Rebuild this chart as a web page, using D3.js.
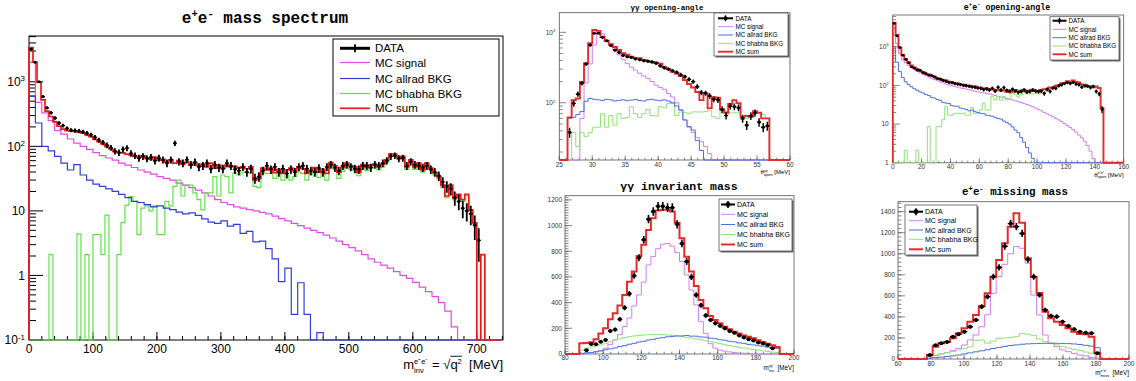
<!DOCTYPE html>
<html>
<head>
<meta charset="utf-8">
<script src="https://cdn.jsdelivr.net/npm/d3@7/dist/d3.min.js"></script>
<style>
  html, body { margin: 0; padding: 0; background: #fff; }
  svg { display: block; }
</style>
</head>
<body>
<div id="chart"></div>
<script>
// ---------------- e+e- mass spectrum (log) ----------------
// data, MC sum and bhabha in 6.25 MeV bins, signal and allrad in 10 MeV bins
var massBin = 6.25, massBinMC = 10;
var massData = [
  3200, 2000, 1000, 590, 395, 330, 275, 230, 210, 190,
  178, 175, 172, 168, 160, 150, 138, 125, 115, 104,
  95, 84, 80, 90, 94, 78, 72, 66, 70, 65,
  68, 60, 66, 62, 55, 62, 112, 58, 55, 62,
  52, 57, 48, 50, 55, 45, 52, 47, 45, 55,
  50, 44, 42, 48, 40, 45, 32, 34, 42, 50,
  44, 48, 40, 45, 38, 44, 40, 48, 50, 45,
  42, 40, 46, 40, 48, 52, 47, 42, 50, 52,
  48, 45, 44, 50, 50, 47, 52, 50, 55, 60,
  70, 72, 65, 66, 50, 58, 52, 50, 47, 50,
  44, 40, 35, 28, 24, 22, 16, 14, 11, 10,
  9, 6, 3.5, 0, 0, 0, 0, 0];
var massSum = [
  3400, 2020, 1000, 525, 350, 290, 240, 205, 185, 175,
  172, 170, 166, 160, 150, 141, 128, 118, 109, 99,
  91, 83, 80, 79, 76, 74, 70, 68, 71, 65,
  63, 68, 61, 63, 57, 62, 55, 60, 53, 57,
  51, 55, 50, 53, 48, 55, 46, 51, 46, 51,
  48, 49, 46, 48, 45, 48, 30, 32, 46, 43,
  46, 39, 44, 38, 43, 46, 42, 48, 45, 38,
  42, 47, 40, 44, 38, 56, 50, 40, 47, 55,
  50, 48, 40, 52, 47, 51, 53, 48, 53, 62,
  76, 76, 68, 70, 48, 62, 48, 55, 43, 55,
  46, 39, 34, 25, 17, 25, 16, 18, 15, 18,
  10.4, 6.5, 0, 2.1, 0, 0, 0, 0];
var massBhabha = [
  0, 0, 0, 0, 0, 2.1, 0, 0, 0, 0,
  0, 0, 4.4, 0, 2.1, 0, 4.3, 4.3, 2.1, 8.6,
  0, 0, 2.1, 6.6, 12.3, 16.6, 14, 4.3, 11, 12,
  10, 12, 4.3, 4.3, 14, 12, 24, 30, 17, 25,
  25, 19, 15, 10.4, 19, 19, 34, 17, 36, 34,
  19, 39, 36, 39, 40, 38, 24, 23, 40, 38,
  38, 32, 40, 30, 36, 30, 34, 40, 38, 30,
  36, 40, 33, 38, 30, 48, 44, 32, 41, 49,
  44, 42, 35, 46, 42, 46, 48, 43, 48, 57,
  70, 70, 63, 65, 44, 57, 44, 51, 40, 52,
  43, 36, 32, 23, 16, 23, 15, 17, 14, 17,
  10, 6.3, 0, 2.1, 0, 0, 0, 0];
var massSignal = [
  2000, 480, 330, 250, 175, 155, 130, 112, 100, 90,
  80, 72, 66, 61, 55, 51, 47, 43, 40, 37,
  34, 32, 30, 27, 25, 23, 21, 19, 17, 15,
  13.5, 12.5, 11.5, 11, 10.5, 10, 9.5, 9, 8.3, 7.6,
  7, 6.4, 5.9, 5.4, 5, 4.6, 4.2, 3.8, 3.4, 3.0,
  2.7, 2.4, 2.1, 1.8, 1.6, 1.45, 1.3, 1.15, 1.0, 0.9,
  0.78, 0.66, 0.56, 0.47, 0.38, 0.28, 0.16, 0, 0, 0,
  0, 0, 0, 0];
var massAllrad = [
  600, 230, 100, 85, 70, 55, 43, 52, 36, 30,
  26, 24, 22, 20, 18, 16, 14, 13.5, 12.5, 11.5,
  12, 11, 10.5, 9.6, 9, 9.3, 8.5, 7.5, 6.7, 6.4,
  7, 5.8, 6.2, 4.5, 4.8, 3.3, 3.4, 2.6, 1.8, 0.8,
  1.3, 0.25, 0.77, 0.25, 0, 0.13, 0, 0, 0, 0,
  0, 0, 0, 0, 0, 0, 0, 0, 0, 0,
  0, 0, 0, 0, 0, 0, 0, 0, 0, 0,
  0, 0, 0, 0];

// ---------------- gamma gamma opening angle (log), 0.625 bins from 25 ----------------
var ggAngLo = 25, ggAngBin = 0.625;
var ggAngData = [
  0, 0, 38, 98, 133, 190, 355, 660, 970, 970,
  850, 760, 650, 560, 520, 470, 450, 440, 420, 410,
  395, 390, 380, 365, 335, 315, 300, 285, 270, 250,
  235, 215, 200, 170, 140, 137, 125, 112, 110, 80,
  66, 90, 88, 85, 60, 48, 65, 72, 53, 45,
  47, 0, 0, 0, 0, 0];
var ggAngSum = [
  0, 0, 62, 109, 115, 197, 365, 700, 1080, 1050,
  860, 760, 680, 620, 560, 505, 480, 450, 430, 430,
  405, 390, 380, 370, 360, 320, 300, 275, 260, 240,
  210, 185, 165, 142, 109, 135, 84, 120, 118, 81,
  72, 96, 109, 99, 63, 65, 63, 76, 72, 60,
  60, 0, 0, 0, 0, 0];
var ggAngSignal = [
  0, 0, 0, 0, 0, 60, 190, 355, 660, 1000,
  950, 740, 650, 560, 480, 415, 360, 320, 290, 263,
  240, 222, 200, 178, 165, 155, 135, 121, 100, 79,
  57, 45, 38, 32, 28, 24, 19, 0, 0, 0,
  0, 0, 0, 0, 0, 0, 0, 0, 0, 0,
  0, 0, 0, 0, 0, 0];
var ggAngAllrad = [
  0, 0, 60, 62, 68, 75, 105, 115, 112, 110,
  108, 112, 110, 106, 108, 110, 107, 109, 111, 108,
  106, 110, 112, 109, 107, 110, 106, 100, 90, 79,
  57, 46, 41, 29, 21, 0, 0, 0, 0, 0,
  0, 0, 0, 0, 0, 0, 0, 0, 0, 0,
  0, 0, 0, 0, 0, 0];
var ggAngBhabha = [
  0, 0, 0, 38, 24, 38, 33, 38, 45, 45,
  70, 45, 66, 48, 70, 60, 62, 88, 70, 62,
  70, 80, 66, 65, 88, 85, 98, 98, 66, 74,
  72, 70, 74, 74, 74, 75, 79, 63, 60, 79,
  75, 72, 72, 72, 57, 60, 64, 70, 72, 68,
  60, 0, 0, 0, 0, 0];

// ---------------- gamma gamma invariant mass (linear), 2.5 MeV bins from 80 ----------------
var ggMassLo = 80, ggMassBin = 2.5;
var ggMassData = [
  0, 0, 0, 0, 30, 78, 75, 95, 110, 180,
  190, 270, 360, 470, 610, 750, 890, 1050, 1110, 1150,
  1150, 1140, 1140, 1010, 860, 720, 600, 460, 380, 300,
  265, 240, 220, 200, 180, 165, 145, 128, 115, 105,
  90, 82, 70, 45, 0, 0, 0, 0];
var ggMassSum = [
  0, 0, 0, 83, 85, 92, 114, 160, 200, 270,
  317, 377, 460, 563, 642, 764, 850, 966, 1057, 1117,
  1123, 1123, 1110, 1023, 902, 758, 642, 530, 421, 356,
  296, 265, 239, 213, 193, 174, 160, 145, 135, 122,
  108, 94, 80, 68, 55, 0, 0, 0];
var ggMassSignal = [
  0, 0, 0, 0, 3, 8, 16, 26, 45, 75,
  110, 150, 213, 280, 374, 460, 560, 694, 760, 820,
  855, 860, 840, 790, 720, 616, 499, 382, 252, 161,
  80, 45, 30, 22, 16, 12, 8, 6, 4, 2,
  0, 0, 0, 0, 0, 0, 0, 0];
var ggMassAllrad = [
  0, 0, 0, 5, 9, 11, 18, 24, 33, 40,
  47, 58, 65, 76, 83, 93, 99, 109, 114, 123,
  127, 134, 137, 141, 141, 144, 139, 139, 133, 131,
  123, 119, 111, 107, 99, 95, 87, 83, 75, 71,
  64, 61, 53, 49, 44, 0, 0, 0];
var ggMassBhabha = [
  0, 0, 0, 30, 45, 55, 62, 70, 80, 95,
  108, 118, 128, 135, 140, 145, 148, 150, 152, 150,
  152, 148, 145, 140, 135, 130, 124, 118, 110, 104,
  96, 88, 80, 72, 65, 58, 52, 46, 40, 35,
  30, 25, 20, 15, 12, 0, 0, 0];

// ---------------- e+e- opening angle (log), 2 unit bins from 0 ----------------
var eeAngLo = 0, eeAngBin = 2;
var eeAngData = [
  4000, 1900, 950, 600, 470, 380, 300, 280, 250, 245,
  215, 200, 185, 180, 165, 150, 145, 135, 128, 120,
  118, 112, 108, 105, 100, 98, 95, 92, 90, 86,
  84, 78, 82, 76, 84, 72, 90, 76, 88, 74,
  70, 80, 72, 66, 70, 76, 68, 70, 76, 72,
  70, 72, 62, 80, 70, 86, 84, 98, 104, 112,
  118, 112, 120, 108, 104, 90, 98, 96, 88, 94,
  70, 60, 24, 0, 0, 0, 0, 0, 0, 0];
var eeAngSum = [
  4200, 2000, 950, 610, 480, 400, 330, 290, 262, 236,
  222, 200, 192, 175, 168, 152, 147, 136, 134, 124,
  122, 114, 113, 106, 105, 98, 99, 92, 94, 86,
  87, 82, 84, 78, 80, 74, 77, 73, 75, 68,
  74, 68, 76, 69, 73, 77, 68, 74, 78, 71,
  68, 76, 80, 78, 88, 86, 98, 100, 114, 116,
  128, 124, 134, 122, 120, 106, 104, 93, 96, 90,
  94, 86, 26, 0, 0, 0, 0, 0, 0, 0];
var eeAngSignal = [
  3000, 1200, 650, 450, 380, 330, 290, 255, 230, 210,
  192, 178, 165, 152, 142, 132, 124, 116, 109, 103,
  98, 94, 90, 86, 83, 80, 77, 74, 71, 68,
  66, 64, 62, 60, 57, 55, 52, 50, 48, 46,
  44, 42, 40, 38, 36, 34, 32, 30, 28, 26,
  24, 22, 20, 18.5, 17, 15.5, 14, 12.8, 11.6, 10.4,
  9.2, 8.2, 7.2, 6.2, 5.2, 4.4, 3.6, 2.8, 2.0, 1.3,
  0, 0, 0, 0, 0, 0, 0, 0, 0, 0];
var eeAngAllrad = [
  1000, 400, 230, 160, 125, 105, 92, 82, 75, 68,
  64, 58, 55, 49, 47, 43, 41, 36, 35, 34,
  30, 29, 29, 26, 25, 24, 22, 23, 21, 20,
  19, 18.5, 17, 16.5, 16, 15, 14, 13.5, 12, 11,
  10, 8.5, 7, 6, 4.5, 3.4, 2.5, 1.8, 1.3, 0,
  0, 0, 0, 0, 0, 0, 0, 0, 0, 0,
  0, 0, 0, 0, 0, 0, 0, 0, 0, 0,
  0, 0, 0, 0, 0, 0, 0, 0, 0, 0];
var eeAngBhabha = [
  0, 0, 0, 0, 2.1, 0, 0, 0, 2.1, 0,
  0, 0, 8.6, 0, 0, 8.6, 8.6, 13, 28, 17,
  17, 19, 19, 19, 19, 17, 17, 27, 19, 19,
  23, 35, 23, 23, 51, 42, 51, 42, 51, 42,
  45, 62, 58, 50, 58, 68, 60, 68, 60, 62,
  60, 62, 66, 70, 75, 80, 88, 95, 102, 110,
  118, 122, 124, 120, 112, 105, 96, 92, 90, 89,
  90, 86, 25, 0, 0, 0, 0, 0, 0, 0];

// ---------------- e+e- missing mass (linear), 3.5 MeV bins from 60 ----------------
var eeMissLo = 60, eeMissBin = 3.5;
var eeMissData = [
  0, 0, 0, 0, 0, 38, 131, 150, 162, 212,
  235, 260, 307, 370, 497, 592, 782, 870, 1072, 1287,
  1258, 1193, 945, 782, 608, 466, 409, 403, 355, 314,
  282, 260, 250, 245, 55, 0, 0, 0, 0, 0];
var eeMissSum = [
  0, 0, 0, 0, 0, 38, 117, 149, 161, 197,
  244, 292, 355, 418, 504, 624, 782, 941, 1100, 1258,
  1385, 1296, 957, 782, 627, 450, 387, 355, 323, 292,
  260, 238, 235, 212, 60, 0, 0, 0, 0, 0];
var eeMissSignal = [
  0, 0, 0, 0, 0, 22, 32, 48, 60, 79,
  101, 133, 181, 228, 307, 420, 624, 783, 900, 1000,
  1068, 1052, 910, 608, 418, 228, 149, 117, 86, 70,
  54, 38, 29, 16, 8, 0, 0, 0, 0, 0];
var eeMissAllrad = [
  0, 0, 0, 0, 0, 8, 13, 18, 24, 30,
  38, 48, 58, 68, 78, 88, 100, 110, 120, 128,
  134, 140, 144, 146, 148, 149, 150, 149, 148, 146,
  143, 138, 130, 122, 108, 0, 0, 0, 0, 0];
var eeMissBhabha = [
  0, 0, 0, 0, 0, 29, 38, 48, 60, 72,
  86, 100, 115, 175, 181, 150, 170, 195, 200, 205,
  215, 240, 235, 225, 190, 165, 150, 135, 120, 105,
  92, 80, 66, 54, 40, 0, 0, 0, 0, 0];

// ---------------- ticks and legend ----------------
var legendLabels = ["DATA", "MC signal", "MC allrad BKG", "MC bhabha BKG", "MC sum"];
var mainXTicks = [0, 100, 200, 300, 400, 500, 600, 700];
var mainYTicks = [0.1, 1, 10, 100, 1000];
var mainYLabels = [["10", "-1"], ["1", ""], ["10", ""], ["10", "2"], ["10", "3"]];
var ggAngXTicks = [25, 30, 35, 40, 45, 50, 55, 60];
var ggAngYTicks = [100, 1000];
var ggAngYLabels = [["10", "2"], ["10", "3"]];
var ggMassXTicks = [80, 100, 120, 140, 160, 180, 200];
var ggMassYTicks = [0, 200, 400, 600, 800, 1000, 1200];
var eeAngXTicks = [0, 20, 40, 60, 80, 100, 120, 140, 160];
var eeAngYTicks = [1, 10, 100, 1000];
var eeAngYLabels = [["1", ""], ["10", ""], ["10", "2"], ["10", "3"]];
var eeMissXTicks = [60, 80, 100, 120, 140, 160, 180, 200];
var eeMissYTicks = [0, 200, 400, 600, 800, 1000, 1200, 1400];

var SANS = "'Liberation Sans', Arial, Helvetica, sans-serif";
var MONO = "'Liberation Mono', 'Courier New', monospace";

var svg = d3.select("#chart").append("svg")
  .attr("width", 1136)
  .attr("height", 381)
  .style("background", "#fff");

// text made of pieces, with sup / sub stacked at the same x
function rich(parent, x, y, segs, fs, family, anchor, weight, fill, supScale) {
  var ss = supScale || 0.66;
  var g = parent.append("g")
    .attr("font-family", family)
    .attr("font-size", fs)
    .attr("font-weight", weight || "normal")
    .attr("fill", fill || "#000");
  var cx = 0;
  segs.forEach(function (s) {
    var w = 0;
    if (s.t !== undefined) {
      var e0 = g.append("text").attr("x", cx).attr("y", 0).text(s.t.replace(/ /g, "\u00a0"));
      w = e0.node().getComputedTextLength();
    }
    if (s.sup !== undefined && s.sup !== "") {
      var e1 = g.append("text").attr("x", cx).attr("y", -fs * 0.4)
        .attr("font-size", fs * ss).text(s.sup);
      w = Math.max(w, e1.node().getComputedTextLength());
    }
    if (s.sub !== undefined) {
      var e2 = g.append("text").attr("x", cx).attr("y", fs * 0.28)
        .attr("font-size", fs * ss).text(s.sub);
      w = Math.max(w, e2.node().getComputedTextLength());
    }
    if (s.over) {
      g.append("line").attr("x1", cx).attr("x2", cx + w)
        .attr("y1", -fs * 0.98).attr("y2", -fs * 0.98)
        .attr("stroke", fill || "#000").attr("stroke-width", 0.9);
    }
    cx += w;
  });
  var dx = anchor === "end" ? -cx : anchor === "middle" ? -cx / 2 : 0;
  g.attr("transform", "translate(" + (x + dx) + "," + y + ")");
  return g;
}

function histPath(x, y, vals, lo, bw, floor) {
  var p = d3.path();
  var yb = y(floor);
  p.moveTo(x(lo), yb);
  vals.forEach(function (v, i) {
    var yy = y(Math.max(v, floor));
    p.lineTo(x(lo + i * bw), yy);
    p.lineTo(x(lo + (i + 1) * bw), yy);
  });
  p.lineTo(x(lo + vals.length * bw), yb);
  return p.toString();
}

function drawPanel(o) {
  var g = svg.append("g");
  var x = d3.scaleLinear().domain(o.xDom).range([o.left, o.right]);
  var y = (o.log ? d3.scaleLog() : d3.scaleLinear()).domain(o.yDom).range([o.bottom, o.top]);
  var floor = o.yDom[0];

  // frame
  g.append("rect")
    .attr("x", o.left).attr("y", o.top)
    .attr("width", o.right - o.left).attr("height", o.bottom - o.top)
    .attr("fill", "none").attr("stroke", o.frame).attr("stroke-width", o.frameW);

  // ticks, pointing inside
  var tg = g.append("g").attr("stroke", o.frame).attr("stroke-width", o.tickW);
  var xMinor = d3.range(o.xDom[0], o.xDom[1] + 1e-6, o.xMinor);
  tg.selectAll(".xm").data(xMinor).join("line")
    .attr("x1", d => x(d)).attr("x2", d => x(d))
    .attr("y1", o.bottom).attr("y2", o.bottom - o.xTick / 2);
  tg.selectAll(".xM").data(o.xTicks).join("line")
    .attr("x1", d => x(d)).attr("x2", d => x(d))
    .attr("y1", o.bottom).attr("y2", o.bottom - o.xTick);
  var yMinor = [];
  if (o.log) {
    var d0 = Math.floor(Math.log10(o.yDom[0])), d1 = Math.ceil(Math.log10(o.yDom[1]));
    for (var d = d0; d <= d1; d++) {
      for (var k = 2; k <= 9; k++) {
        var v = k * Math.pow(10, d);
        if (v >= o.yDom[0] && v <= o.yDom[1]) yMinor.push(v);
      }
    }
  } else {
    yMinor = d3.range(o.yDom[0], o.yDom[1], o.yMinor);
  }
  tg.selectAll(".ym").data(yMinor).join("line")
    .attr("x1", o.left).attr("x2", o.left + o.yTick / 2)
    .attr("y1", d => y(d)).attr("y2", d => y(d));
  tg.selectAll(".yM").data(o.yTicks).join("line")
    .attr("x1", o.left).attr("x2", o.left + o.yTick)
    .attr("y1", d => y(d)).attr("y2", d => y(d));

  // tick labels
  o.xTicks.forEach(function (v) {
    g.append("text")
      .attr("x", x(v)).attr("y", o.xLabY)
      .attr("text-anchor", "middle")
      .attr("font-family", SANS).attr("font-size", o.labFs)
      .attr("fill", o.labColor)
      .text(v);
  });
  o.yTicks.forEach(function (v, i) {
    var lab = o.yLabels ? o.yLabels[i] : [String(v), ""];
    rich(g, o.left - o.yLabGap, y(v) + o.labFs * 0.36,
      [{ t: lab[0] }, { sup: lab[1] }], o.labFs, SANS, "end", "normal", o.labColor);
  });

  // histograms
  var cid = "clip-" + o.id;
  svg.append("clipPath").attr("id", cid).append("rect")
    .attr("x", o.left - 1).attr("y", o.top)
    .attr("width", o.right - o.left + 2).attr("height", o.bottom - o.top + 1.5);
  var hg = g.append("g").attr("clip-path", "url(#" + cid + ")");
  o.hists.forEach(function (h) {
    hg.append("path")
      .attr("d", histPath(x, y, h.vals, h.lo, h.bw, floor))
      .attr("fill", "none")
      .attr("stroke", h.color)
      .attr("stroke-width", h.lw);
  });

  // data points with statistical error bars
  var pts = [];
  o.data.vals.forEach(function (v, i) {
    if (v > 0) pts.push({ c: o.data.lo + (i + 0.5) * o.data.bw, v: v, e: Math.sqrt(v) });
  });
  var half = (x(o.data.lo + o.data.bw) - x(o.data.lo)) / 2;
  var dg = hg.append("g").attr("stroke", "#000").attr("fill", "#000");
  dg.selectAll(".ev").data(pts).join("line")
    .attr("x1", d => x(d.c)).attr("x2", d => x(d.c))
    .attr("y1", d => y(Math.min(d.v + d.e, o.yDom[1])))
    .attr("y2", d => y(Math.max(d.v - d.e, floor)))
    .attr("stroke-width", o.errW);
  dg.selectAll(".eh").data(pts).join("line")
    .attr("x1", d => x(d.c) - half).attr("x2", d => x(d.c) + half)
    .attr("y1", d => y(d.v)).attr("y2", d => y(d.v))
    .attr("stroke-width", o.errHW);
  dg.selectAll(".mk").data(pts).join("circle")
    .attr("cx", d => x(d.c)).attr("cy", d => y(d.v))
    .attr("r", o.markR).attr("stroke", "none");

  // title
  rich(svg, o.titleX, o.titleY, o.title, o.titleFs, MONO, "middle", "bold", "#000");
  // x axis title
  rich(svg, o.right, o.xTitleY, o.xTitle, o.xTitleFs, SANS, "end", "normal", "#000", o.xTitleSup);

  // legend
  var L = o.legend;
  var lg = svg.append("g");
  if (L.shadow) {
    lg.append("rect").attr("x", L.x0 + 1.5).attr("y", L.y0 + 1.5)
      .attr("width", L.x1 - L.x0).attr("height", L.y1 - L.y0).attr("fill", "#666");
  }
  lg.append("rect").attr("x", L.x0).attr("y", L.y0)
    .attr("width", L.x1 - L.x0).attr("height", L.y1 - L.y0)
    .attr("fill", "#fff").attr("stroke", L.border).attr("stroke-width", L.bw);
  var cols = ["#000"].concat(o.hists.map(h => h.color));
  var lws = [L.dataLw].concat(o.hists.map(h => h.lw));
  // hists are drawn signal, bhabha, allrad, sum -> legend order signal, allrad, bhabha, sum
  var order = [0, 1, 3, 2, 4];
  legendLabels.forEach(function (lab, i) {
    var ry = L.rows[i];
    var j = order[i];
    lg.append("line").attr("x1", L.lx0).attr("x2", L.lx1)
      .attr("y1", ry).attr("y2", ry)
      .attr("stroke", cols[j]).attr("stroke-width", lws[j]);
    if (i === 0) {
      var mx = (L.lx0 + L.lx1) / 2;
      lg.append("line").attr("x1", mx).attr("x2", mx)
        .attr("y1", ry - L.bar).attr("y2", ry + L.bar)
        .attr("stroke", "#000").attr("stroke-width", o.errW);
      lg.append("circle").attr("cx", mx).attr("cy", ry).attr("r", o.markR + 0.4).attr("fill", "#000");
    }
    lg.append("text").attr("x", L.tx).attr("y", ry + L.fs * 0.36)
      .attr("font-family", SANS).attr("font-size", L.fs).attr("fill", "#000")
      .text(lab);
  });
}

// colours
var mainCol = { sig: "#e24ce6", all: "#2f3fd8", bha: "#62e04a", sum: "#ea1a1a" };
var smallCol = { sig: "#d47ef2", all: "#4a6fe2", bha: "#90e27a", sum: "#e62a2a" };

function hists(c, lw, sumLw, sig, bha, all, sum, lo, bw, loMC, bwMC) {
  return [
    { vals: sig, lo: loMC, bw: bwMC, color: c.sig, lw: lw },
    { vals: bha, lo: lo, bw: bw, color: c.bha, lw: lw },
    { vals: all, lo: loMC, bw: bwMC, color: c.all, lw: lw },
    { vals: sum, lo: lo, bw: bw, color: c.sum, lw: sumLw }
  ];
}

var EPEM = "e\u207Ae\u207B";

// main panel
drawPanel({
  id: "main", left: 29, right: 503, top: 36, bottom: 340,
  xDom: [0, 741], yDom: [0.1, 5120], log: true,
  frame: "#000", frameW: 1, tickW: 1, xTick: 8, yTick: 14, xMinor: 20,
  xTicks: mainXTicks, yTicks: mainYTicks, yLabels: mainYLabels,
  labFs: 12, labColor: "#000", xLabY: 353, yLabGap: 4,
  hists: hists(mainCol, 1.2, 1.7, massSignal, massBhabha, massAllrad, massSum, 0, massBin, 0, massBinMC),
  data: { vals: massData, lo: 0, bw: massBin },
  errW: 1.8, errHW: 1.3, markR: 1.5,
  title: [{ t: "e" }, { sup: "+" }, { t: "e" }, { sup: "-" }, { t: " mass spectrum" }],
  titleX: 265, titleY: 23, titleFs: 16,
  xTitle: [{ t: "m" }, { sup: EPEM, sub: "inv" }, { t: " = " }, { t: "\u221A" },
           { t: "q", over: true }, { sup: "2", over: true }, { t: "  [MeV]" }],
  xTitleY: 369, xTitleFs: 13, xTitleSup: 0.58,
  legend: { x0: 333, y0: 39, x1: 499, y1: 116, border: "#000", bw: 1, shadow: false,
            rows: [48.3, 62.5, 78.5, 93.5, 108.3], lx0: 340, lx1: 370, tx: 375,
            fs: 11.5, dataLw: 3, bar: 4 }
});

// gamma gamma opening angle
drawPanel({
  id: "gga", left: 559.3, right: 790, top: 12.7, bottom: 160,
  xDom: [25, 60], yDom: [15.4, 1900], log: true,
  frame: "#555", frameW: 0.8, tickW: 0.7, xTick: 4.5, yTick: 7, xMinor: 1,
  xTicks: ggAngXTicks, yTicks: ggAngYTicks, yLabels: ggAngYLabels,
  labFs: 6.5, labColor: "#333", xLabY: 166.5, yLabGap: 4,
  hists: hists(smallCol, 1, 1.9, ggAngSignal, ggAngBhabha, ggAngAllrad, ggAngSum, ggAngLo, ggAngBin, ggAngLo, ggAngBin),
  data: { vals: ggAngData, lo: ggAngLo, bw: ggAngBin },
  errW: 1.4, errHW: 1.2, markR: 1.6,
  title: [{ t: "\u03B3\u03B3 opening-angle" }],
  titleX: 667, titleY: 9.5, titleFs: 7.6,
  xTitle: [{ t: "\u03B8" }, { sup: "\u03B3\u03B3", sub: "open" }, { t: " [MeV]" }],
  xTitleY: 174, xTitleFs: 6,
  legend: { x0: 714, y0: 13, x1: 788, y1: 56, border: "#555", bw: 0.8, shadow: true,
            rows: [18.3, 26.7, 35, 43.3, 51.7], lx0: 718, lx1: 733, tx: 735.5,
            fs: 6.3, dataLw: 2, bar: 3 }
});

// gamma gamma invariant mass
drawPanel({
  id: "ggm", left: 565, right: 794, top: 195.7, bottom: 354,
  xDom: [80, 200], yDom: [0, 1233], log: false,
  frame: "#555", frameW: 0.8, tickW: 0.7, xTick: 4.5, yTick: 7, xMinor: 4, yMinor: 20,
  xTicks: ggMassXTicks, yTicks: ggMassYTicks,
  labFs: 6.5, labColor: "#333", xLabY: 360, yLabGap: 3,
  hists: hists(smallCol, 1, 2, ggMassSignal, ggMassBhabha, ggMassAllrad, ggMassSum, ggMassLo, ggMassBin, ggMassLo, ggMassBin),
  data: { vals: ggMassData, lo: ggMassLo, bw: ggMassBin },
  errW: 1.6, errHW: 1.4, markR: 2,
  title: [{ t: "\u03B3\u03B3 invariant mass" }],
  titleX: 679, titleY: 190, titleFs: 11.5,
  xTitle: [{ t: "m" }, { sup: "\u03B3\u03B3", sub: "inv" }, { t: "  [MeV]" }],
  xTitleY: 370, xTitleFs: 6.3,
  legend: { x0: 719, y0: 199, x1: 792, y1: 251, border: "#555", bw: 0.8, shadow: true,
            rows: [204.5, 214.3, 224.5, 234.5, 244.5], lx0: 721, lx1: 735, tx: 737,
            fs: 7, dataLw: 2, bar: 3.5 }
});

// e+e- opening angle
drawPanel({
  id: "eea", left: 892.7, right: 1123.7, top: 15, bottom: 162.8,
  xDom: [0, 160], yDom: [1, 6600], log: true,
  frame: "#555", frameW: 0.8, tickW: 0.7, xTick: 4.5, yTick: 7, xMinor: 4,
  xTicks: eeAngXTicks, yTicks: eeAngYTicks, yLabels: eeAngYLabels,
  labFs: 6.5, labColor: "#333", xLabY: 168.5, yLabGap: 4,
  hists: hists(smallCol, 1, 1.9, eeAngSignal, eeAngBhabha, eeAngAllrad, eeAngSum, eeAngLo, eeAngBin, eeAngLo, eeAngBin),
  data: { vals: eeAngData, lo: eeAngLo, bw: eeAngBin },
  errW: 1.3, errHW: 1, markR: 1.4,
  title: [{ t: "e" }, { sup: "+" }, { t: "e" }, { sup: "-" }, { t: " opening-angle" }],
  titleX: 1007, titleY: 9.5, titleFs: 8.3,
  xTitle: [{ t: "\u03B8" }, { sup: EPEM, sub: "open" }, { t: " [MeV]" }],
  xTitleY: 176.5, xTitleFs: 6,
  legend: { x0: 1050, y0: 16.7, x1: 1119, y1: 60, border: "#555", bw: 0.8, shadow: true,
            rows: [20.7, 29.3, 37.7, 46, 54.3], lx0: 1052.5, lx1: 1066.5, tx: 1068.5,
            fs: 6.3, dataLw: 2, bar: 3 }
});

// e+e- missing mass
drawPanel({
  id: "eem", left: 898, right: 1129, top: 201.7, bottom: 359,
  xDom: [60, 200], yDom: [0, 1495], log: false,
  frame: "#555", frameW: 0.8, tickW: 0.7, xTick: 4.5, yTick: 7, xMinor: 4, yMinor: 40,
  xTicks: eeMissXTicks, yTicks: eeMissYTicks,
  labFs: 6.5, labColor: "#333", xLabY: 365.5, yLabGap: 3,
  hists: hists(smallCol, 1, 2, eeMissSignal, eeMissBhabha, eeMissAllrad, eeMissSum, eeMissLo, eeMissBin, eeMissLo, eeMissBin),
  data: { vals: eeMissData, lo: eeMissLo, bw: eeMissBin },
  errW: 1.6, errHW: 1.4, markR: 2,
  title: [{ t: "e" }, { sup: "+" }, { t: "e" }, { sup: "-" }, { t: " missing mass" }],
  titleX: 1015, titleY: 195, titleFs: 10.8,
  xTitle: [{ t: "m" }, { sup: EPEM, sub: "miss" }, { t: "  [MeV]" }],
  xTitleY: 375, xTitleFs: 6.3,
  legend: { x0: 905, y0: 205, x1: 977, y1: 255, border: "#555", bw: 0.8, shadow: true,
            rows: [211.7, 220.7, 230, 239.3, 249.3], lx0: 909, lx1: 923, tx: 925,
            fs: 7, dataLw: 2, bar: 3.5 }
});
</script>
</body>
</html>
